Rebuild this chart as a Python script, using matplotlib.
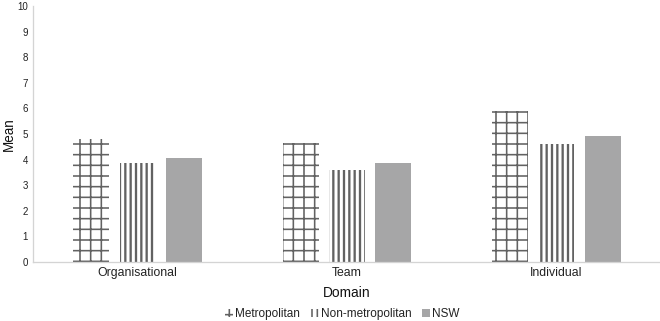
"""Mean scores by domain for metropolitan, non-metropolitan and NSW respondents."""

import matplotlib

matplotlib.use("Agg")
import matplotlib.pyplot as plt
import numpy as np

domains = ["Organisational", "Team", "Individual"]
series_names = ["Metropolitan", "Non-metropolitan", "NSW"]
metropolitan = [4.82, 4.64, 5.88]
non_metropolitan = [3.85, 3.60, 4.60]
nsw = [4.08, 3.85, 4.92]
y_ticks = list(range(0, 11))

DPI = 64
HATCH_GREY = "#626262"
FILL_GREY = "#a6a6a7"
SPINE_GREY = "#d4d4d4"


def px(v):
    """Convert pixels to points at the chosen dpi."""
    return v * 72 / DPI


plt.rcParams.update(
    {
        "font.family": ["Liberation Sans", "DejaVu Sans"],
        "hatch.color": HATCH_GREY,
        "hatch.linewidth": px(1.6),
        "figure.facecolor": "white",
    }
)

fig = plt.figure(figsize=(660 / DPI, 321 / DPI), dpi=DPI)
ax = fig.add_axes([33 / 660, 59 / 321, 628 / 660, 256 / 321])

x = np.arange(len(domains))
width = 0.172
step = 0.222

styles = [
    dict(facecolor="white", edgecolor=HATCH_GREY, hatch="+", linewidth=0, hlw=1.6),
    dict(facecolor="white", edgecolor=HATCH_GREY, hatch="||", linewidth=0, hlw=2.3),
    dict(facecolor=FILL_GREY, edgecolor=FILL_GREY, hatch=None, linewidth=0, hlw=1.0),
]

for i, (name, vals, st) in enumerate(zip(series_names, [metropolitan, non_metropolitan, nsw], styles)):
    st = dict(st)
    hlw = st.pop("hlw")
    bars = ax.bar(x + (i - 1) * step, vals, width, label=name, **st)
    for b in bars:
        if hasattr(b, "set_hatch_linewidth"):
            b.set_hatch_linewidth(px(hlw))

ax.set_xlim(-0.5, len(domains) - 0.5)
ax.set_ylim(0, 10)
ax.set_yticks(y_ticks)
ax.set_xticks(x, domains)
ax.tick_params(axis="both", length=0, colors="#222222")
ax.tick_params(axis="y", labelsize=px(9.8), pad=px(5))
ax.tick_params(axis="x", labelsize=px(12.3), pad=px(5))

for side in ("top", "right"):
    ax.spines[side].set_visible(False)
for side in ("left", "bottom"):
    ax.spines[side].set_color(SPINE_GREY)
    ax.spines[side].set_linewidth(px(1.3))

ax.set_xlabel("Domain", fontsize=px(13.8), color="#111111", labelpad=px(7))
ax.set_ylabel("Mean", fontsize=px(13.5), color="#111111")
ax.yaxis.set_label_coords(-0.027, 0.5)

leg = fig.legend(
    loc="center",
    bbox_to_anchor=(0.519, 0.022),
    ncol=3,
    frameon=False,
    fontsize=px(11.8),
    handlelength=0.65,
    handleheight=0.65,
    handletextpad=0.2,
    columnspacing=0.9,
    borderpad=0,
)
for t in leg.get_texts():
    t.set_color("#222222")

fig.savefig("out.png", dpi=DPI)
